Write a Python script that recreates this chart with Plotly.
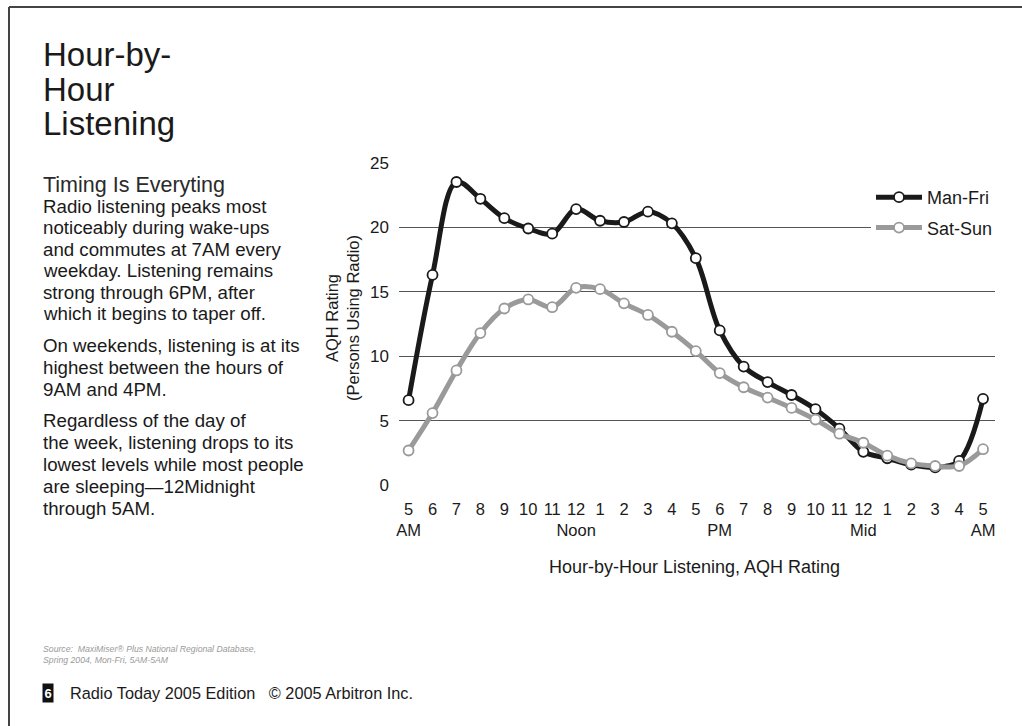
import plotly.graph_objects as go

# hour-by-hour AQH rating, 5AM to 5AM
hours = ["5<br>AM", "6", "7", "8", "9", "10", "11", "12<br>Noon", "1", "2", "3", "4",
         "5", "6<br>PM", "7", "8", "9", "10", "11", "12<br>Mid", "1", "2", "3", "4", "5<br>AM"]
man_fri = [6.6, 16.3, 23.5, 22.2, 20.7, 19.9, 19.5, 21.4, 20.5, 20.4, 21.2, 20.3,
           17.6, 12.0, 9.2, 8.0, 7.0, 5.9, 4.4, 2.6, 2.1, 1.6, 1.4, 1.9, 6.7]
sat_sun = [2.7, 5.6, 8.9, 11.8, 13.7, 14.4, 13.8, 15.3, 15.2, 14.1, 13.2, 11.9,
           10.4, 8.7, 7.6, 6.8, 6.0, 5.1, 4.0, 3.3, 2.3, 1.7, 1.5, 1.5, 2.8]
y_ticks = [0, 5, 10, 15, 20, 25]

FONT = "Liberation Sans, Arial, Helvetica, sans-serif"
INK = "#1a1a1a"
W, H = 1022, 726
PL, PR, PT, PB = 399, 995, 162, 486  # plot area in pixels


def px(x):
    return (x - PL) / (PR - PL)


def py(y):
    return (PB - y) / (PB - PT)


xs = list(range(len(hours)))

fig = go.Figure()
fig.add_trace(go.Scatter(
    x=xs, y=man_fri, name="Man-Fri", mode="lines+markers", legendgroup="a",
    line=dict(color=INK, width=5, shape="spline", smoothing=1),
    marker=dict(size=10, color="white", line=dict(color=INK, width=1.8)),
    cliponaxis=False,
))
fig.add_trace(go.Scatter(
    x=xs, y=sat_sun, name="Sat-Sun", mode="lines+markers", legendgroup="b",
    line=dict(color="#9a9a9a", width=5, shape="spline", smoothing=1),
    marker=dict(size=10, color="white", line=dict(color="#9a9a9a", width=1.8)),
    cliponaxis=False,
))

ann = []

# big title, one line at a time
for txt, mid in [("Hour-by-", 54), ("Hour", 89), ("Listening", 124)]:
    ann.append(dict(x=px(41), y=py(mid), text=txt, xanchor="left", yanchor="middle",
                    font=dict(size=33, color=INK)))

ann.append(dict(x=px(41), y=py(185), text="Timing Is Everyting", xanchor="left",
                yanchor="middle", font=dict(size=21.5, color="#2a2a2a")))

body = [
    ("Radio listening peaks most", 206),
    ("noticeably during wake-ups", 227),
    ("and commutes at 7AM every", 249),
    ("weekday. Listening remains", 270),
    ("strong through 6PM, after", 292),
    ("which it begins to taper off.", 313),
    ("On weekends, listening is at its", 345),
    ("highest between the hours of", 367),
    ("9AM and 4PM.", 389),
    ("Regardless of the day of", 420),
    ("the week, listening drops to its", 442),
    ("lowest levels while most people", 464),
    ("are sleeping\u201412Midnight", 486),
    ("through 5AM.", 508),
]
for txt, mid in body:
    ann.append(dict(x=px(41), y=py(mid), text=txt, xanchor="left", yanchor="middle",
                    font=dict(size=18.7, color=INK)))

# y axis title
ann.append(dict(x=px(342), y=py(318), text="AQH Rating<br>(Persons Using Radio)",
                textangle=-90, xanchor="center", yanchor="middle",
                font=dict(size=16.5, color=INK)))
# x axis title
ann.append(dict(x=px(694), y=py(567), text="Hour-by-Hour Listening, AQH Rating",
                xanchor="center", yanchor="middle", font=dict(size=18, color=INK)))

# source note
ann.append(dict(x=px(41), y=py(654),
                text="<i>Source:  MaxiMiser\u00ae Plus National Regional Database,<br>Spring 2004, Mon-Fri, 5AM-5AM</i>",
                xanchor="left", yanchor="middle", align="left",
                font=dict(size=8.7, color="#9a9a9a")))

# footer
ann.append(dict(x=px(42), y=py(693), text="<b>6</b>", xanchor="left", yanchor="middle",
                bgcolor="#111111", borderpad=1.5, font=dict(size=13, color="white")))
ann.append(dict(x=px(68), y=py(693),
                text="Radio Today 2005 Edition\u00a0\u00a0\u00a0\u00a9 2005 Arbitron Inc.",
                xanchor="left", yanchor="middle", font=dict(size=16.3, color=INK)))

for a in ann:
    a.update(xref="paper", yref="paper", showarrow=False)

# page frame (top and left edge only)
shapes = [
    dict(type="line", xref="paper", yref="paper", x0=px(9), x1=px(W), y0=py(7), y1=py(7),
         line=dict(color="#444444", width=2)),
    dict(type="line", xref="paper", yref="paper", x0=px(9), x1=px(9), y0=py(7), y1=py(H),
         line=dict(color="#444444", width=2)),
]

fig.update_layout(
    width=W, height=H,
    margin=dict(l=PL, r=W - PR, t=PT, b=H - PB),
    plot_bgcolor="white", paper_bgcolor="white",
    font=dict(family=FONT, color=INK),
    annotations=ann, shapes=shapes,
    legend=dict(x=px(871), y=py(179), xanchor="left", yanchor="top",
                bgcolor="white", font=dict(size=18, color=INK),
                itemwidth=46, tracegroupgap=4, entrywidth=140),
    xaxis=dict(range=[-0.4, 24.5], tickmode="array", tickvals=xs, ticktext=hours,
               tickangle=0, showgrid=False, zeroline=False, showline=False, ticks="",
               ticklabelstandoff=11, tickfont=dict(size=16.5, color=INK), fixedrange=True),
    yaxis=dict(range=[-0.05, 25.05], tickvals=y_ticks, showgrid=True, gridcolor="#555555",
               gridwidth=1, zeroline=False, showline=False, ticks="", ticklabelstandoff=9,
               tickfont=dict(size=17, color=INK), fixedrange=True),
)

fig.write_html("out.html", config={"displayModeBar": False},
               post_script="document.body.style.margin='0px';")
